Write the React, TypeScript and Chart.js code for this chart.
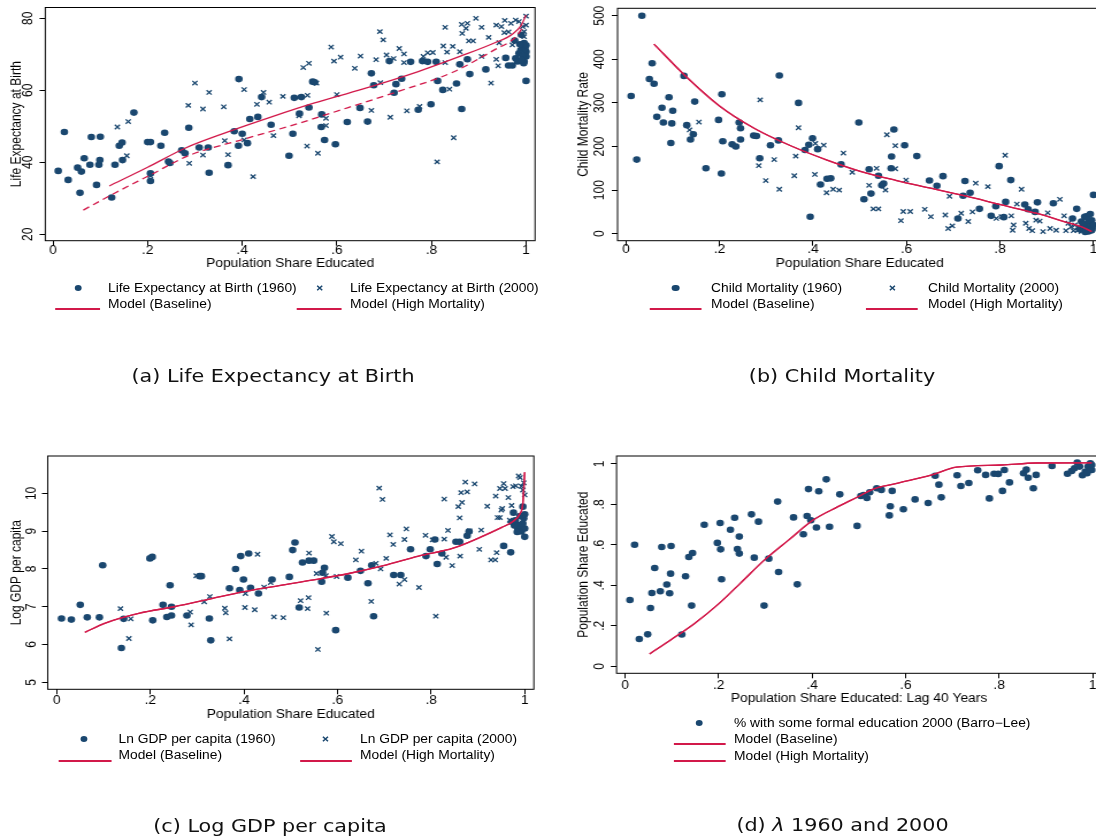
import { useEffect, useRef } from 'react';
import { Chart, registerables } from 'chart.js';

Chart.register(...registerables);

type Pt = [number, number];

// the reference figure is stretched a little horizontally; we draw narrower and scale the page
const SX = 1.15;
const NAVY = '#1a476f';
const RED = '#d2194a';
const FONT = '"Liberation Sans", Arial, Helvetica, sans-serif';

const X_TICKS = [0, 0.2, 0.4, 0.6, 0.8, 1];
const LIFE_Y_TICKS = [20, 40, 60, 80];
const MORT_Y_TICKS = [0, 100, 200, 300, 400, 500];
const GDP_Y_TICKS = [5, 6, 7, 8, 9, 10];
const EDU_Y_TICKS = [0, 0.2, 0.4, 0.6, 0.8, 1];

// (a) life expectancy
const LIFE_1960: Pt[] = [
  [0.011, 37.6], [0.024, 48.4], [0.032, 35.1], [0.052, 38.5], [0.057, 31.5], [0.06, 37.4], [0.066, 41.1],
  [0.078, 39.3], [0.081, 47.0], [0.092, 33.7], [0.097, 39.3], [0.099, 40.6], [0.1, 47.1], [0.124, 30.2],
  [0.131, 39.3], [0.14, 44.6], [0.146, 45.5], [0.147, 40.6], [0.171, 53.8], [0.2, 45.6], [0.206, 45.6],
  [0.206, 36.9], [0.206, 34.8], [0.228, 44.6], [0.236, 48.2], [0.244, 40.2], [0.247, 39.8], [0.272, 43.3],
  [0.279, 42.5], [0.287, 49.6], [0.309, 44.1], [0.328, 44.1], [0.33, 37.1], [0.37, 39.2], [0.383, 48.6],
  [0.393, 63.1], [0.392, 44.6], [0.4, 47.9], [0.411, 45.3], [0.416, 52.0], [0.433, 52.6], [0.441, 58.1],
  [0.461, 50.4], [0.499, 41.8], [0.507, 47.9], [0.51, 57.9], [0.525, 58.1], [0.521, 53.5], [0.541, 55.2],
  [0.549, 62.4], [0.553, 62.2], [0.567, 49.8], [0.568, 53.3], [0.574, 46.2], [0.597, 45.0], [0.622, 51.2],
  [0.649, 55.1], [0.665, 51.3], [0.673, 64.7], [0.678, 61.4], [0.711, 68.1], [0.721, 59.3], [0.725, 61.7],
  [0.737, 63.2], [0.756, 67.9], [0.772, 54.6], [0.781, 68.1], [0.792, 67.9], [0.799, 56.1], [0.81, 67.9],
  [0.813, 62.6], [0.824, 60.1], [0.853, 61.9], [0.86, 67.2], [0.864, 54.8], [0.876, 68.6], [0.881, 64.5],
  [0.915, 65.8], [0.957, 69.0], [0.963, 66.9], [0.971, 66.9], [0.978, 68.9], [0.985, 70.3], [0.989, 71.2],
  [0.993, 72.1], [0.996, 73.1], [1.0, 70.7], [1.0, 62.6], [0.996, 68.0], [0.99, 75.4], [1.0, 69.4],
  [0.982, 68.0], [0.993, 69.5], [0.998, 71.5], [0.987, 72.8], [0.995, 67.5], [1.0, 72.5], [0.976, 73.8],
  [0.991, 68.4],
];
const LIFE_2000: Pt[] = [
  [0.136, 49.8], [0.159, 51.3], [0.156, 41.8], [0.206, 36.2], [0.286, 55.8], [0.288, 39.7], [0.3, 62.0],
  [0.317, 54.8], [0.317, 42.0], [0.33, 59.4], [0.361, 55.4], [0.363, 46.0], [0.37, 42.1], [0.404, 60.2],
  [0.404, 46.2], [0.423, 36.0], [0.431, 56.1], [0.445, 59.4], [0.457, 56.7], [0.466, 47.4], [0.486, 58.3],
  [0.52, 52.9], [0.529, 66.3], [0.538, 58.6], [0.537, 44.5], [0.541, 67.5], [0.557, 62.0], [0.56, 42.5],
  [0.577, 52.2], [0.577, 50.2], [0.588, 72.0], [0.594, 68.1], [0.6, 58.8], [0.608, 69.2], [0.638, 66.1],
  [0.65, 69.5], [0.673, 54.4], [0.683, 68.5], [0.691, 76.3], [0.698, 74.0], [0.692, 62.1], [0.705, 69.8],
  [0.713, 52.5], [0.72, 68.8], [0.732, 71.6], [0.742, 70.1], [0.742, 67.7], [0.748, 54.3], [0.775, 55.5],
  [0.783, 69.4], [0.792, 70.4], [0.803, 70.5], [0.812, 40.1], [0.825, 72.3], [0.829, 77.5], [0.829, 67.7],
  [0.833, 70.6], [0.838, 60.3], [0.845, 72.2], [0.847, 46.8], [0.86, 70.7], [0.864, 78.3], [0.865, 75.8],
  [0.873, 77.2], [0.876, 78.6], [0.879, 73.7], [0.888, 73.7], [0.894, 80.0], [0.906, 77.5], [0.906, 69.4],
  [0.921, 74.7], [0.926, 62.0], [0.937, 78.1], [0.937, 68.6], [0.941, 66.8], [0.943, 73.2], [0.948, 77.7],
  [0.955, 79.4], [0.954, 76.0], [0.963, 76.2], [0.968, 78.6], [0.971, 72.6], [0.978, 79.5], [0.985, 79.1],
  [0.993, 77.7], [0.996, 76.3], [1.0, 78.1], [1.0, 80.6], [0.996, 74.9],
];
const LIFE_BASE: Pt[] = [
  [0.119, 33.4], [0.2, 38.6], [0.279, 43.9], [0.367, 48.3], [0.462, 52.6], [0.551, 56.4], [0.654, 60.3],
  [0.772, 65.2], [0.86, 69.4], [0.934, 73.2], [0.971, 75.6], [0.989, 77.9], [1.0, 80.9],
];
const LIFE_HIGH: Pt[] = [
  [0.064, 26.7], [0.13, 31.4], [0.205, 36.4], [0.286, 41.8], [0.403, 46.4], [0.514, 50.6], [0.624, 55.2],
  [0.735, 59.9], [0.845, 65.0], [0.934, 71.3], [0.978, 74.8], [0.996, 78.1],
];

// (b) child mortality
const MORT_1960: Pt[] = [
  [0.011, 316], [0.023, 170], [0.034, 500], [0.05, 355], [0.056, 391], [0.06, 344], [0.066, 268],
  [0.077, 289], [0.08, 255], [0.092, 313], [0.096, 208], [0.098, 253], [0.1, 282], [0.124, 362],
  [0.13, 249], [0.138, 216], [0.144, 228], [0.147, 303], [0.171, 150], [0.198, 261], [0.204, 138],
  [0.205, 320], [0.207, 212], [0.227, 205], [0.235, 200], [0.242, 255], [0.245, 242], [0.245, 216],
  [0.273, 225], [0.279, 224], [0.286, 173], [0.309, 203], [0.326, 214], [0.328, 363], [0.369, 300],
  [0.383, 192], [0.391, 204], [0.394, 39], [0.399, 219], [0.41, 194], [0.416, 113], [0.43, 126],
  [0.438, 127], [0.46, 159], [0.498, 255], [0.509, 79], [0.52, 148], [0.524, 92], [0.54, 133],
  [0.547, 111], [0.551, 115], [0.567, 150], [0.568, 177], [0.573, 239], [0.596, 203], [0.622, 178],
  [0.649, 122], [0.665, 110], [0.678, 132], [0.71, 35], [0.721, 87], [0.725, 121], [0.736, 94],
  [0.756, 57], [0.781, 41], [0.791, 63], [0.798, 155], [0.808, 38], [0.812, 73], [0.823, 123],
  [0.853, 67], [0.86, 56], [0.875, 50], [0.88, 72], [0.914, 70], [0.964, 57], [0.955, 35], [0.974, 28],
  [0.981, 39], [0.985, 16], [0.993, 24], [0.996, 31], [0.996, 8], [1.0, 89], [0.989, 5], [0.978, 22],
  [0.99, 30], [0.997, 12], [0.985, 40], [0.97, 10], [0.993, 45], [0.982, 4], [1.0, 20],
];
const MORT_2000: Pt[] = [
  [0.136, 238], [0.156, 256], [0.284, 156], [0.287, 307], [0.299, 122], [0.317, 170], [0.328, 102],
  [0.36, 133], [0.363, 178], [0.369, 243], [0.404, 136], [0.405, 207], [0.423, 203], [0.429, 94],
  [0.443, 102], [0.456, 100], [0.465, 185], [0.484, 141], [0.52, 111], [0.529, 57], [0.536, 150],
  [0.54, 57], [0.555, 100], [0.558, 227], [0.576, 149], [0.576, 202], [0.588, 30], [0.593, 51],
  [0.599, 123], [0.608, 51], [0.639, 56], [0.652, 39], [0.683, 43], [0.692, 86], [0.689, 12],
  [0.698, 18], [0.717, 47], [0.732, 28], [0.741, 50], [0.748, 116], [0.774, 108], [0.792, 35],
  [0.803, 39], [0.811, 180], [0.824, 41], [0.827, 8], [0.829, 20], [0.836, 68], [0.846, 102],
  [0.855, 24], [0.862, 12], [0.869, 7], [0.877, 31], [0.885, 29], [0.892, 5], [0.902, 48], [0.907, 12],
  [0.92, 8], [0.928, 79], [0.937, 41], [0.941, 7], [0.946, 24], [0.952, 16], [0.957, 7], [0.966, 8],
  [0.974, 5], [0.981, 8], [0.993, 6], [0.96, 20], [0.97, 14], [0.988, 12],
];
const MORT_BASE: Pt[] = [
  [0.06, 435], [0.125, 364], [0.2, 293], [0.274, 242], [0.356, 200], [0.43, 169], [0.505, 142],
  [0.579, 122], [0.654, 104], [0.728, 86], [0.803, 66], [0.877, 47], [0.937, 28], [0.974, 16], [0.996, 5],
];
const MORT_HIGH: Pt[] = MORT_BASE; // the two model curves coincide in this panel

// (c) log GDP per capita
const GDP_1960: Pt[] = [
  [0.01, 6.69], [0.031, 6.66], [0.05, 7.05], [0.065, 6.72], [0.091, 6.72], [0.098, 8.1], [0.138, 5.91],
  [0.143, 6.68], [0.199, 8.28], [0.204, 8.32], [0.205, 6.64], [0.227, 7.05], [0.235, 6.73], [0.242, 7.57],
  [0.245, 7.0], [0.245, 6.77], [0.278, 6.77], [0.305, 7.81], [0.309, 7.81], [0.326, 6.69], [0.329, 6.11],
  [0.369, 7.49], [0.382, 8.0], [0.391, 7.44], [0.393, 8.34], [0.399, 7.72], [0.41, 8.41], [0.414, 7.5],
  [0.431, 7.35], [0.46, 7.72], [0.497, 7.79], [0.504, 8.5], [0.509, 8.7], [0.518, 6.98], [0.525, 8.17],
  [0.539, 8.22], [0.549, 8.22], [0.566, 7.66], [0.572, 8.03], [0.568, 7.9], [0.596, 6.38], [0.622, 7.77],
  [0.649, 7.95], [0.665, 7.62], [0.673, 8.1], [0.677, 6.75], [0.72, 7.84], [0.735, 7.84], [0.756, 8.52],
  [0.789, 8.34], [0.798, 8.52], [0.808, 8.78], [0.813, 8.13], [0.823, 8.41], [0.853, 8.72], [0.861, 8.72],
  [0.877, 8.88], [0.881, 8.99], [0.955, 8.61], [0.97, 8.44], [0.976, 9.49], [0.98, 9.29], [0.985, 9.07],
  [0.989, 9.16], [0.993, 8.99], [0.996, 9.65], [0.998, 9.34], [1.0, 9.07], [1.0, 8.85], [0.978, 9.15],
  [0.99, 9.4], [0.996, 9.2], [1.0, 9.45], [0.984, 8.98], [0.972, 9.25],
];
const GDP_2000: Pt[] = [
  [0.136, 6.95], [0.154, 6.16], [0.158, 6.68], [0.285, 6.86], [0.287, 6.52], [0.298, 7.82], [0.315, 7.13],
  [0.327, 7.27], [0.359, 6.96], [0.361, 6.84], [0.369, 6.15], [0.403, 7.35], [0.402, 6.98], [0.423, 6.92],
  [0.429, 8.39], [0.443, 7.52], [0.457, 7.64], [0.464, 6.73], [0.484, 6.71], [0.521, 7.16], [0.536, 6.95],
  [0.538, 7.24], [0.539, 8.42], [0.558, 5.87], [0.555, 7.88], [0.575, 7.82], [0.576, 6.83], [0.588, 8.86],
  [0.592, 8.72], [0.598, 7.8], [0.607, 8.67], [0.639, 8.24], [0.651, 8.47], [0.672, 7.14], [0.682, 8.15],
  [0.689, 10.14], [0.692, 8.0], [0.696, 9.84], [0.704, 8.28], [0.712, 8.9], [0.719, 8.65], [0.732, 7.6],
  [0.743, 7.72], [0.743, 8.78], [0.747, 9.06], [0.774, 7.51], [0.788, 8.89], [0.803, 8.77], [0.81, 6.75],
  [0.828, 9.85], [0.828, 8.79], [0.832, 8.31], [0.836, 9.02], [0.845, 8.09], [0.858, 9.65], [0.861, 9.35],
  [0.862, 8.34], [0.864, 10.02], [0.866, 9.76], [0.873, 10.3], [0.877, 10.04], [0.882, 9.01], [0.893, 10.25],
  [0.903, 8.52], [0.907, 9.03], [0.92, 9.66], [0.928, 8.24], [0.937, 8.24], [0.938, 9.93], [0.94, 8.43],
  [0.942, 9.36], [0.947, 9.36], [0.947, 10.13], [0.95, 9.56], [0.952, 9.6], [0.955, 10.26], [0.958, 10.13],
  [0.965, 9.89], [0.968, 9.29], [0.972, 9.68], [0.975, 10.18], [0.981, 10.2], [0.987, 10.46], [0.99, 10.42],
  [0.993, 10.19], [0.996, 10.09], [0.998, 10.28], [1.0, 9.96],
];
const GDP_BASE: Pt[] = [
  [0.06, 6.32], [0.102, 6.56], [0.177, 6.83], [0.251, 7.0], [0.326, 7.2], [0.4, 7.4], [0.475, 7.56],
  [0.549, 7.71], [0.624, 7.88], [0.698, 8.09], [0.773, 8.34], [0.847, 8.55], [0.907, 8.85], [0.951, 9.1],
  [0.974, 9.25], [0.989, 9.45], [0.996, 9.74], [1.0, 10.56],
];
const GDP_HIGH: Pt[] = GDP_BASE;

// (d) share educated vs. 40-year lag
const EDU_2000: Pt[] = [
  [0.01, 0.328], [0.02, 0.601], [0.03, 0.135], [0.048, 0.158], [0.054, 0.288], [0.057, 0.362], [0.063, 0.486],
  [0.075, 0.371], [0.078, 0.59], [0.089, 0.404], [0.095, 0.361], [0.097, 0.458], [0.098, 0.595], [0.121, 0.157],
  [0.129, 0.445], [0.136, 0.54], [0.142, 0.3], [0.144, 0.56], [0.169, 0.7], [0.197, 0.61], [0.203, 0.708],
  [0.204, 0.578], [0.206, 0.43], [0.225, 0.675], [0.234, 0.734], [0.24, 0.58], [0.244, 0.641], [0.244, 0.557],
  [0.27, 0.751], [0.276, 0.537], [0.285, 0.715], [0.297, 0.3], [0.307, 0.532], [0.326, 0.814], [0.328, 0.466],
  [0.36, 0.736], [0.368, 0.405], [0.381, 0.653], [0.389, 0.743], [0.392, 0.876], [0.397, 0.722], [0.409, 0.686],
  [0.414, 0.865], [0.43, 0.924], [0.437, 0.69], [0.459, 0.85], [0.496, 0.694], [0.504, 0.842], [0.51, 0.847],
  [0.517, 0.832], [0.523, 0.86], [0.538, 0.88], [0.548, 0.872], [0.565, 0.746], [0.567, 0.791], [0.571, 0.867],
  [0.595, 0.776], [0.62, 0.825], [0.648, 0.807], [0.663, 0.942], [0.671, 0.898], [0.676, 0.835], [0.71, 0.944],
  [0.718, 0.891], [0.735, 0.906], [0.754, 0.969], [0.771, 0.946], [0.779, 0.83], [0.789, 0.952], [0.798, 0.951],
  [0.807, 0.867], [0.811, 0.97], [0.822, 0.909], [0.852, 0.954], [0.858, 0.972], [0.862, 0.932], [0.873, 0.88],
  [0.879, 0.946], [0.913, 0.99], [0.946, 0.952], [0.955, 0.965], [0.961, 0.979], [0.967, 1.007], [0.972, 0.987],
  [0.978, 0.944], [0.984, 0.962], [0.99, 0.987], [0.995, 1.003], [0.998, 0.97], [0.998, 0.995], [0.988, 0.954],
];
const EDU_BASE: Pt[] = [
  [0.052, 0.061], [0.097, 0.13], [0.149, 0.213], [0.201, 0.311], [0.246, 0.41], [0.298, 0.526], [0.35, 0.625],
  [0.402, 0.723], [0.455, 0.789], [0.499, 0.839], [0.529, 0.875], [0.581, 0.904], [0.656, 0.946], [0.708, 0.984],
  [0.805, 0.995], [0.879, 1.005], [0.998, 1.006],
];
const EDU_HIGH: Pt[] = EDU_BASE;

const fmt = (v: number) => (Number.isInteger(v) ? String(v) : String(v).replace(/^0\./, '.'));
const toXY = (pts: Pt[]) => pts.map(([x, y]) => ({ x, y }));

const dots = (pts: Pt[]) => ({
  data: toXY(pts), pointStyle: 'circle', pointRadius: 3.3, pointHoverRadius: 3.3,
  backgroundColor: NAVY, borderColor: NAVY, borderWidth: 0,
});
const crosses = (pts: Pt[]) => ({
  data: toXY(pts), pointStyle: 'crossRot', pointRadius: 3.1, pointHoverRadius: 3.1,
  backgroundColor: NAVY, borderColor: NAVY, borderWidth: 1.3,
});
const curve = (pts: Pt[], dash: number[] = []) => ({
  data: toXY(pts), showLine: true, pointRadius: 0, pointHoverRadius: 0, borderColor: RED,
  backgroundColor: RED, borderWidth: 1.3, borderDash: dash, cubicInterpolationMode: 'monotone', fill: false,
});

// draws the box round the plot and the upright y tick labels, Stata style
const stataFrame = {
  id: 'stataFrame',
  afterDraw(chart: any, _args: any, opts: any) {
    const { ctx, chartArea: a } = chart;
    const y = chart.scales.y;
    ctx.save();
    ctx.strokeStyle = '#000';
    ctx.lineWidth = 1;
    ctx.strokeRect(a.left, a.top, a.right - a.left, a.bottom - a.top);
    ctx.fillStyle = '#000';
    ctx.font = `12px ${FONT}`;
    ctx.textAlign = 'center';
    ctx.textBaseline = 'middle';
    for (const t of y.ticks) {
      ctx.save();
      ctx.translate(a.left - opts.labelGap, y.getPixelForValue(t.value));
      ctx.rotate(-Math.PI / 2);
      ctx.fillText(fmt(t.value), 0, 0);
      ctx.restore();
    }
    ctx.restore();
  },
};

interface PanelSpec {
  canvas: [number, number, number, number]; // left, top, right, bottom in page px
  frame: [number, number, number, number];
  xRange: [number, number];
  yRange: [number, number];
  yTicks: number[];
  xTitle: string;
  yTitle: string;
  xLabelY: number;
  xTitleY: number;
  yLabelX: number;
  yTitleX: number;
  datasets: any[];
}

function Panel({ spec }: { spec: PanelSpec }) {
  const canvasRef = useRef<HTMLCanvasElement>(null);
  const [cL, cT, cR, cB] = spec.canvas;
  const [fL, fT, fR, fB] = spec.frame;

  useEffect(() => {
    if (!canvasRef.current) return;
    const tickFont = { family: FONT, size: 12, lineHeight: 1 };
    const titleFont = { family: FONT, size: 12, lineHeight: 1.2 };
    const chart = new Chart(canvasRef.current, {
      type: 'scatter',
      data: { datasets: spec.datasets },
      options: {
        animation: false,
        responsive: true,
        maintainAspectRatio: false,
        events: [],
        layout: { padding: { left: 0, top: fT - cT, right: (cR - fR) / SX, bottom: 0 } },
        plugins: {
          legend: { display: false },
          tooltip: { enabled: false },
          stataFrame: { labelGap: (fL - spec.yLabelX) / SX },
        } as any,
        scales: {
          x: {
            type: 'linear',
            min: spec.xRange[0],
            max: spec.xRange[1],
            afterBuildTicks: (s: any) => { s.ticks = X_TICKS.map(v => ({ value: v })); },
            afterFit: (s: any) => { s.height = cB - fB; },
            grid: { drawOnChartArea: false, color: '#000', tickColor: '#000', tickLength: 5, lineWidth: 1 },
            border: { display: false },
            ticks: {
              color: '#000', font: tickFont, padding: spec.xLabelY - fB - 11,
              maxRotation: 0, autoSkip: false, callback: (v: any) => fmt(Number(v)),
            },
            title: {
              display: true, text: spec.xTitle, color: '#000', font: titleFont,
              padding: { top: 0, bottom: cB - spec.xTitleY - 7.2 },
            },
          },
          y: {
            type: 'linear',
            min: spec.yRange[0],
            max: spec.yRange[1],
            afterBuildTicks: (s: any) => { s.ticks = spec.yTicks.map(v => ({ value: v })); },
            afterFit: (s: any) => { s.width = (fL - cL) / SX; },
            grid: { drawOnChartArea: false, color: '#000', tickColor: '#000', tickLength: 5, lineWidth: 1 },
            border: { display: false },
            ticks: { display: false },
            title: {
              display: true, text: spec.yTitle, color: '#000', font: titleFont,
              padding: { top: (spec.yTitleX - cL) / SX - 7.2, bottom: 0 },
            },
          },
        },
      },
      plugins: [stataFrame as any],
    });
    return () => chart.destroy();
  }, [spec]);

  return (
    <div style={{ position: 'absolute', left: cL / SX, top: cT, width: (cR - cL) / SX, height: cB - cT }}>
      <canvas ref={canvasRef} />
    </div>
  );
}

type LegendItem =
  | { kind: 'dot' | 'cross'; x: number; y: number }
  | { kind: 'line'; x1: number; x2: number; y: number }
  | { kind: 'text'; x: number; y: number; text: string };

function LegendMark({ item }: { item: LegendItem }) {
  if (item.kind === 'text') {
    return (
      <div style={{
        position: 'absolute', left: item.x / SX, top: item.y - 8, height: 16, lineHeight: '16px',
        fontFamily: FONT, fontSize: 12, color: '#000', whiteSpace: 'nowrap',
      }}>{item.text}</div>
    );
  }
  if (item.kind === 'line') {
    return (
      <div style={{
        position: 'absolute', left: item.x1 / SX, width: (item.x2 - item.x1) / SX,
        top: item.y - 0.65, height: 1.3, background: RED,
      }} />
    );
  }
  if (item.kind === 'dot') {
    return (
      <div style={{
        position: 'absolute', left: item.x / SX - 3.3, top: item.y - 3.3, width: 6.6, height: 6.6,
        borderRadius: '50%', background: NAVY,
      }} />
    );
  }
  return (
    <svg width={6} height={6} style={{ position: 'absolute', left: item.x / SX - 3, top: item.y - 3 }}>
      <path d="M0.8 0.8 L5.2 5.2 M5.2 0.8 L0.8 5.2" stroke={NAVY} strokeWidth={1.3} />
    </svg>
  );
}

function Caption({ x, y, children }: { x: number; y: number; children: any }) {
  return (
    <div style={{
      position: 'absolute', left: x / SX - 250, width: 500, top: y - 12, height: 24, lineHeight: '24px',
      textAlign: 'center', fontFamily: '"DejaVu Sans", Verdana, sans-serif', fontSize: 18, color: '#111',
      whiteSpace: 'nowrap',
    }}>{children}</div>
  );
}

const PANEL_A: PanelSpec = {
  canvas: [0, 0, 543, 274], frame: [45.3, 7.5, 535, 240.7],
  xRange: [-0.0163, 1.019], yRange: [18.2, 83], yTicks: LIFE_Y_TICKS,
  xTitle: 'Population Share Educated', yTitle: 'Life Expectancy at Birth',
  xLabelY: 250.7, xTitleY: 263.3, yLabelX: 27.9, yTitleX: 16.7,
  datasets: [curve(LIFE_BASE), curve(LIFE_HIGH, [6, 4]), dots(LIFE_1960), crosses(LIFE_2000)],
};
const PANEL_B: PanelSpec = {
  canvas: [548, 0, 1110, 274], frame: [617, 8.3, 1101.4, 240.7],
  xRange: [-0.018, 1.018], yRange: [-16, 517], yTicks: MORT_Y_TICKS,
  xTitle: 'Population Share Educated', yTitle: 'Child Mortality Rate',
  xLabelY: 250, xTitleY: 263.3, yLabelX: 599.6, yTitleX: 582.8,
  datasets: [curve(MORT_BASE), curve(MORT_HIGH), dots(MORT_1960), crosses(MORT_2000)],
};
const PANEL_C: PanelSpec = {
  canvas: [0, 440, 543, 724], frame: [47.7, 456, 533.8, 689.3],
  xRange: [-0.0195, 1.0195], yRange: [4.815, 10.99], yTicks: GDP_Y_TICKS,
  xTitle: 'Population Share Educated', yTitle: 'Log GDP per capita',
  xLabelY: 700.7, xTitleY: 714.3, yLabelX: 31.4, yTitleX: 16.4,
  datasets: [curve(GDP_BASE), curve(GDP_HIGH), dots(GDP_1960), crosses(GDP_2000)],
};
const PANEL_D: PanelSpec = {
  canvas: [548, 440, 1110, 708], frame: [616, 456, 1101, 673.3],
  xRange: [-0.0186, 1.019], yRange: [-0.0346, 1.0395], yTicks: EDU_Y_TICKS,
  xTitle: 'Population Share Educated: Lag 40 Years', yTitle: 'Population Share Educated',
  xLabelY: 685.7, xTitleY: 698.3, yLabelX: 599.6, yTitleX: 582.8,
  datasets: [curve(EDU_BASE), curve(EDU_HIGH), dots(EDU_2000)],
};

const LEGEND: LegendItem[] = [
  { kind: 'dot', x: 78, y: 288 }, { kind: 'text', x: 108, y: 288, text: 'Life Expectancy at Birth (1960)' },
  { kind: 'cross', x: 320, y: 288 }, { kind: 'text', x: 350, y: 288, text: 'Life Expectancy at Birth (2000)' },
  { kind: 'line', x1: 55, x2: 100, y: 309 }, { kind: 'text', x: 108, y: 304, text: 'Model (Baseline)' },
  { kind: 'line', x1: 297, x2: 341, y: 309 }, { kind: 'text', x: 350, y: 304, text: 'Model (High Mortality)' },

  { kind: 'dot', x: 675.5, y: 288 }, { kind: 'text', x: 711, y: 288, text: 'Child Mortality (1960)' },
  { kind: 'cross', x: 892, y: 288 }, { kind: 'text', x: 928, y: 288, text: 'Child Mortality (2000)' },
  { kind: 'line', x1: 650, x2: 702, y: 309 }, { kind: 'text', x: 711, y: 304, text: 'Model (Baseline)' },
  { kind: 'line', x1: 866, x2: 918, y: 309 }, { kind: 'text', x: 928, y: 304, text: 'Model (High Mortality)' },

  { kind: 'dot', x: 84, y: 739 }, { kind: 'text', x: 118.5, y: 739, text: 'Ln GDP per capita (1960)' },
  { kind: 'cross', x: 326, y: 739 }, { kind: 'text', x: 360, y: 739, text: 'Ln GDP per capita (2000)' },
  { kind: 'line', x1: 59, x2: 111, y: 761 }, { kind: 'text', x: 118.5, y: 755, text: 'Model (Baseline)' },
  { kind: 'line', x1: 300, x2: 352, y: 761 }, { kind: 'text', x: 360, y: 755, text: 'Model (High Mortality)' },

  { kind: 'dot', x: 699, y: 723 },
  { kind: 'text', x: 734, y: 723, text: '% with some formal education 2000 (Barro\u2212Lee)' },
  { kind: 'line', x1: 674, x2: 726, y: 744 }, { kind: 'text', x: 734, y: 739, text: 'Model (Baseline)' },
  { kind: 'line', x1: 674, x2: 726, y: 761 }, { kind: 'text', x: 734, y: 756, text: 'Model (High Mortality)' },
];

export default function App() {
  return (
    <div style={{
      position: 'absolute', left: 0, top: 0, width: 1096, height: 840, overflow: 'hidden', background: '#fff',
    }}>
      <div style={{
        position: 'absolute', left: 0, top: 0, width: 1096 / SX + 20, height: 840,
        transform: `scaleX(${SX})`, transformOrigin: '0 0',
      }}>
        <Panel spec={PANEL_A} />
        <Panel spec={PANEL_B} />
        <Panel spec={PANEL_C} />
        <Panel spec={PANEL_D} />
        {LEGEND.map((item, i) => <LegendMark key={i} item={item} />)}
        <Caption x={273} y={376}>(a) Life Expectancy at Birth</Caption>
        <Caption x={842} y={376}>(b) Child Mortality</Caption>
        <Caption x={270} y={826}>(c) Log GDP per capita</Caption>
        <Caption x={842.5} y={825}>(d) <span style={{ fontStyle: 'italic' }}>{'\u03bb'}</span> 1960 and 2000</Caption>
      </div>
    </div>
  );
}
